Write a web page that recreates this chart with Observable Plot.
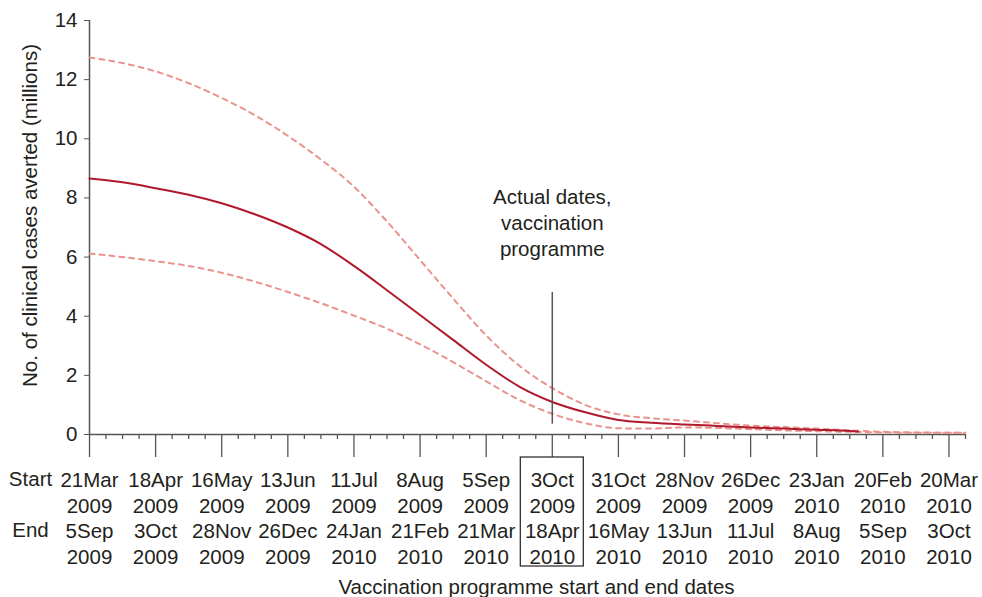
<!DOCTYPE html>
<html>
<head>
<meta charset="utf-8">
<script src="https://cdn.jsdelivr.net/npm/d3@7"></script>
<script src="https://cdn.jsdelivr.net/npm/@observablehq/plot@0.6"></script>
<style>
  html, body { margin: 0; padding: 0; background: #fff; }
  #chart { width: 982px; height: 597px; }
</style>
</head>
<body>
<div id="chart"></div>
<script>
// Weeks since 21 Mar 2009 (programme start offsets)
const centralWeeks = [0,2,4,6,8,10,12,14,16,18,20,22,24,26,28,30,32,34,36,38,40,42,44,46,46.5];
const centralValues = [8.66,8.53,8.33,8.11,7.82,7.45,7.0,6.44,5.7,4.88,4.04,3.2,2.36,1.62,1.1,0.75,0.49,0.4,0.34,0.29,0.24,0.2,0.16,0.12,0.1];

const boundWeeks = [0,2,4,6,8,10,12,14,16,18,20,22,24,26,28,30,32,34,36,38,40,42,44,46,48,50,52,53];
const upperValues = [12.75,12.56,12.28,11.88,11.38,10.8,10.1,9.3,8.38,7.2,5.9,4.6,3.35,2.33,1.57,1.0,0.68,0.55,0.47,0.38,0.3,0.25,0.2,0.14,0.09,0.07,0.06,0.06];
const lowerValues = [6.12,6.0,5.86,5.7,5.47,5.17,4.82,4.44,4.02,3.58,3.05,2.45,1.8,1.17,0.7,0.38,0.21,0.2,0.24,0.22,0.18,0.14,0.11,0.09,0.07,0.06,0.06,0.06];

const tickWeeks = [0,4,8,12,16,20,24,28,32,36,40,44,48,52];
const minorWeeks = d3.range(0, 54, 1).filter(w => w % 4 !== 0);
const startDates = ["21Mar","18Apr","16May","13Jun","11Jul","8Aug","5Sep","3Oct","31Oct","28Nov","26Dec","23Jan","20Feb","20Mar"];
const startYears = ["2009","2009","2009","2009","2009","2009","2009","2009","2009","2009","2009","2010","2010","2010"];
const endDates = ["5Sep","3Oct","28Nov","26Dec","24Jan","21Feb","21Mar","18Apr","16May","13Jun","11Jul","8Aug","5Sep","3Oct"];
const endYears = ["2009","2009","2009","2009","2010","2010","2010","2010","2010","2010","2010","2010","2010","2010"];
const yTicks = [0,2,4,6,8,10,12,14];

const actualWeek = 28;
const annotation = "Actual dates,\nvaccination\nprogramme";

const central = centralWeeks.map((w, i) => ({week: w, value: centralValues[i]}));
const upper = boundWeeks.map((w, i) => ({week: w, value: upperValues[i]}));
const lower = boundWeeks.map((w, i) => ({week: w, value: lowerValues[i]}));
const labels = tickWeeks.map((w, i) => ({week: w, text: `${startDates[i]}\n${startYears[i]}\n${endDates[i]}\n${endYears[i]}`}));

const font = "'Liberation Sans', Arial, Helvetica, sans-serif";
const fs = 20.5;
const textColor = "#231f20";
const axisColor = "#555";
const darkRed = "#b0182c";
const lightRed = "#e8948d";

const plot = Plot.plot({
  width: 982,
  height: 597,
  marginLeft: 89,
  marginRight: 17,
  marginTop: 20,
  marginBottom: 163,
  style: {fontFamily: font, fontSize: fs + "px", color: textColor, background: "#fff", overflow: "visible"},
  x: {domain: [0, 53]},
  y: {domain: [0, 14]},
  marks: [
    Plot.axisY({ticks: yTicks, tickSize: 5, tickPadding: 7, fontSize: fs, stroke: axisColor, fill: textColor, label: null}),
    Plot.axisX({ticks: tickWeeks, tickSize: 23, tickFormat: () => "", stroke: axisColor, strokeWidth: 1.3, label: null}),
    Plot.axisX({ticks: minorWeeks, tickSize: 5, tickFormat: () => "", stroke: axisColor, strokeWidth: 1.3, label: null}),
    Plot.ruleX([0], {y1: 0, y2: 14, stroke: axisColor, strokeWidth: 1.5}),
    Plot.ruleY([0], {x1: 0, x2: 53, stroke: axisColor, strokeWidth: 1.5}),
    Plot.line(upper, {x: "week", y: "value", stroke: lightRed, strokeWidth: 2, strokeDasharray: "5,5", curve: "monotone-x"}),
    Plot.line(lower, {x: "week", y: "value", stroke: lightRed, strokeWidth: 2, strokeDasharray: "5,5", curve: "monotone-x"}),
    Plot.line(central, {x: "week", y: "value", stroke: darkRed, strokeWidth: 2, curve: "monotone-x"}),
    Plot.ruleX([actualWeek], {y1: 0.35, y2: 4.8, stroke: axisColor, strokeWidth: 1.5}),
    Plot.text([annotation], {x: actualWeek, y: 7.2, text: d => d, fontSize: fs, lineHeight: 1.29, fill: textColor, textAnchor: "middle", lineAnchor: "middle"}),
    Plot.text(labels, {x: "week", y: 0, text: "text", dy: 83, lineAnchor: "middle", lineHeight: 1.244, fontSize: fs, fill: textColor}),
    Plot.text(["Start"], {frameAnchor: "bottom-left", dx: -59, dy: 45, fontSize: fs, fill: textColor, textAnchor: "middle", lineAnchor: "middle"}),
    Plot.text(["End"], {frameAnchor: "bottom-left", dx: -59, dy: 96, fontSize: fs, fill: textColor, textAnchor: "middle", lineAnchor: "middle"}),
    Plot.text(["Vaccination programme start and end dates"], {frameAnchor: "bottom", dx: 9, dy: 153, fontSize: fs, fill: textColor, textAnchor: "middle", lineAnchor: "middle"}),
    Plot.text(["No. of clinical cases averted (millions)"], {frameAnchor: "left", dx: -59, dy: -12, rotate: -90, fontSize: fs, fill: textColor, textAnchor: "middle", lineAnchor: "middle"})
  ]
});

document.getElementById("chart").appendChild(plot);

// Box around the actual-dates tick label, derived from the scales
const xs = plot.scale("x"), ys = plot.scale("y");
const cx = xs.apply(actualWeek), y0 = ys.apply(0);
d3.select(plot).append("rect")
  .attr("x", cx - 31.5)
  .attr("y", y0 + 23)
  .attr("width", 63)
  .attr("height", 109)
  .attr("fill", "none")
  .attr("stroke", "#231f20")
  .attr("stroke-width", 1.2);
</script>
</body>
</html>
